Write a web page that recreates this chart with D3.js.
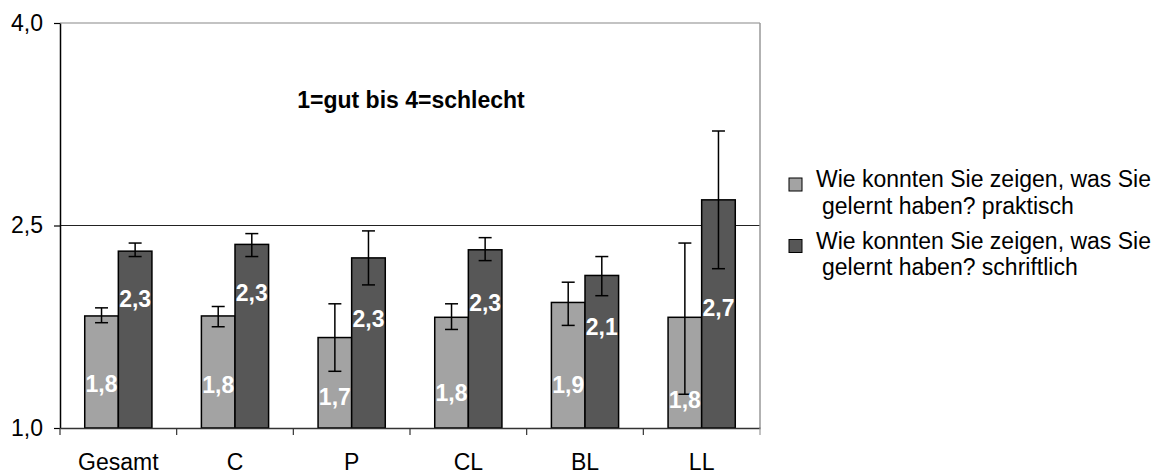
<!DOCTYPE html>
<html>
<head>
<meta charset="utf-8">
<script src="https://cdn.jsdelivr.net/npm/d3@7"></script>
<style>
    body { margin: 0; background: #fff; }
    text { font-family: "Liberation Sans", Arial, sans-serif; }
</style>
</head>
<body>
<div id="chart"></div>
<script>
// data
const categories = ["Gesamt", "C", "P", "CL", "BL", "LL"];
const seriesNames = [
    ["Wie konnten Sie zeigen, was Sie", "gelernt haben? praktisch"],
    ["Wie konnten Sie zeigen, was Sie", "gelernt haben? schriftlich"]
];
const praktisch = [1.83, 1.83, 1.67, 1.82, 1.93, 1.82];
const praktischLow = [1.78, 1.75, 1.42, 1.73, 1.76, 1.25];
const praktischHigh = [1.89, 1.90, 1.92, 1.92, 2.08, 2.37];
const schriftlich = [2.31, 2.36, 2.26, 2.32, 2.13, 2.69];
const schriftlichLow = [2.27, 2.27, 2.06, 2.24, 1.98, 2.18];
const schriftlichHigh = [2.37, 2.44, 2.46, 2.41, 2.27, 3.20];
const praktischLabels = ["1,8", "1,8", "1,7", "1,8", "1,9", "1,8"];
const schriftlichLabels = ["2,3", "2,3", "2,3", "2,3", "2,1", "2,7"];
// where the data labels sit, in axis units
const praktischLabelAt = [1.33, 1.32, 1.23, 1.26, 1.32, 1.21];
const schriftlichLabelAt = [1.96, 2.00, 1.81, 1.93, 1.75, 1.89];
const yTicks = [1.0, 2.5, 4.0];
const note = "1=gut bis 4=schlecht";

const colors = ["#a3a3a3", "#575757"];

const W = 1166, H = 474;
const plot = { left: 60, right: 760, top: 23, bottom: 428 };

const svg = d3.select("#chart").append("svg")
    .attr("width", W)
    .attr("height", H);

const x = d3.scaleBand()
    .domain(categories)
    .range([plot.left, plot.right]);

const y = d3.scaleLinear()
    .domain([1, 4])
    .range([plot.bottom, plot.top]);

const barW = 33.6;
const fs = "23px";
const fmt = v => d3.format(".1f")(v).replace(".", ",");

// gridlines / frame
svg.append("line")
    .attr("x1", plot.left).attr("x2", plot.right)
    .attr("y1", y(2.5)).attr("y2", y(2.5))
    .attr("stroke", "#222").attr("stroke-width", 1);
svg.append("line")
    .attr("x1", plot.left).attr("x2", plot.right)
    .attr("y1", y(4)).attr("y2", y(4))
    .attr("stroke", "#888").attr("stroke-width", 1.2);
svg.append("line")
    .attr("x1", plot.right).attr("x2", plot.right)
    .attr("y1", y(4)).attr("y2", plot.bottom)
    .attr("stroke", "#999").attr("stroke-width", 1.5);

const series = [
    { vals: praktisch, lo: praktischLow, hi: praktischHigh, labels: praktischLabels, at: praktischLabelAt, off: -barW },
    { vals: schriftlich, lo: schriftlichLow, hi: schriftlichHigh, labels: schriftlichLabels, at: schriftlichLabelAt, off: 0 }
];

series.forEach((s, si) => {
    const g = svg.append("g");
    const cx = (d, i) => x(categories[i]) + x.bandwidth() / 2 + s.off;

    g.selectAll("rect")
        .data(s.vals)
        .join("rect")
        .attr("x", (d, i) => cx(d, i))
        .attr("y", d => y(d))
        .attr("width", barW)
        .attr("height", d => y(1) - y(d))
        .attr("fill", colors[si])
        .attr("stroke", "#000")
        .attr("stroke-width", 1.5);

    // error bars
    const eb = g.selectAll(".err")
        .data(s.vals)
        .join("g")
        .attr("class", "err");
    eb.append("line")
        .attr("x1", (d, i) => cx(d, i) + barW / 2)
        .attr("x2", (d, i) => cx(d, i) + barW / 2)
        .attr("y1", (d, i) => y(s.lo[i]))
        .attr("y2", (d, i) => y(s.hi[i]));
    eb.append("line")
        .attr("x1", (d, i) => cx(d, i) + barW / 2 - 6.5)
        .attr("x2", (d, i) => cx(d, i) + barW / 2 + 6.5)
        .attr("y1", (d, i) => y(s.lo[i]))
        .attr("y2", (d, i) => y(s.lo[i]));
    eb.append("line")
        .attr("x1", (d, i) => cx(d, i) + barW / 2 - 6.5)
        .attr("x2", (d, i) => cx(d, i) + barW / 2 + 6.5)
        .attr("y1", (d, i) => y(s.hi[i]))
        .attr("y2", (d, i) => y(s.hi[i]));
    eb.selectAll("line").attr("stroke", "#000").attr("stroke-width", 1.5);

    g.selectAll(".lbl")
        .data(s.labels)
        .join("text")
        .attr("class", "lbl")
        .attr("x", (d, i) => cx(d, i) + barW / 2)
        .attr("y", (d, i) => y(s.at[i]))
        .attr("dy", "0.36em")
        .attr("text-anchor", "middle")
        .style("font-size", fs)
        .style("font-weight", "bold")
        .style("fill", "#fff")
        .text(d => d);
});

// y axis
const yAxis = svg.append("g")
    .attr("transform", `translate(${plot.left},0)`)
    .call(d3.axisLeft(y).tickValues(yTicks).tickFormat(fmt).tickSize(6).tickSizeOuter(0));
yAxis.select(".domain").attr("stroke", "#000").attr("stroke-width", 1.5);
yAxis.selectAll(".tick line").attr("stroke", "#000").attr("stroke-width", 1.2);
yAxis.selectAll(".tick text")
    .attr("x", -17)
    .style("font-size", fs)
    .style("fill", "#000")
    .style("font-family", "'Liberation Sans', Arial, sans-serif");

// x axis
const xAxis = svg.append("g")
    .attr("transform", `translate(0,${plot.bottom})`)
    .call(d3.axisBottom(x).tickSize(0).tickPadding(26).tickSizeOuter(0));
xAxis.select(".domain").attr("stroke", "#333").attr("stroke-width", 1.5);
xAxis.selectAll(".tick text")
    .style("font-size", fs)
    .style("fill", "#000")
    .style("font-family", "'Liberation Sans', Arial, sans-serif");

const bounds = categories.map(c => x(c)).concat([plot.right]);
xAxis.selectAll(".sep")
    .data(bounds)
    .join("line")
    .attr("class", "sep")
    .attr("x1", d => d).attr("x2", d => d)
    .attr("y1", 0).attr("y2", 7)
    .attr("stroke", (d, i) => i === bounds.length - 1 ? "#999" : "#333")
    .attr("stroke-width", 1.2);

// note inside the plot
svg.append("text")
    .attr("x", 411)
    .attr("y", 108)
    .attr("text-anchor", "middle")
    .style("font-size", fs)
    .style("font-weight", "bold")
    .text(note);

// legend
const legend = svg.append("g").attr("transform", "translate(789,0)");
seriesNames.forEach((lines, i) => {
    const top = 178 + i * 61.5;
    legend.append("rect")
        .attr("x", 0).attr("y", top)
        .attr("width", 13).attr("height", 13)
        .attr("fill", colors[i])
        .attr("stroke", "#000")
        .attr("stroke-width", 1);
    lines.forEach((t, j) => {
        legend.append("text")
            .attr("x", j === 0 ? 27 : 33)
            .attr("y", top + 9 + j * 26.5)
            .style("font-size", fs)
            .style("fill", "#000")
            .text(t);
    });
});
</script>
</body>
</html>
